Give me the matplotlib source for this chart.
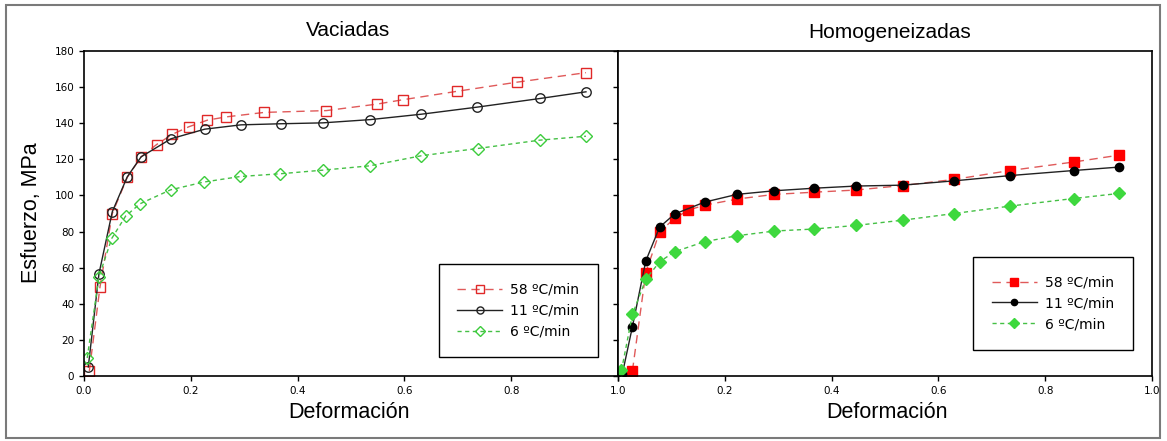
import matplotlib
matplotlib.use("Agg")
import matplotlib.pyplot as plt
from matplotlib.patches import Rectangle

# ---- data: Vaciadas ----
v58_x = [0.010, 0.030, 0.053, 0.081, 0.107, 0.136, 0.165, 0.196, 0.231, 0.266, 0.338, 0.454, 0.549, 0.597, 0.699, 0.810, 0.940]
v58_y = [2.8, 49.4, 90.0, 110.0, 121.4, 128.2, 133.8, 138.0, 141.7, 143.5, 146.0, 147.0, 150.6, 153.0, 157.7, 162.7, 168.0]
v11_x = [0.008, 0.028, 0.053, 0.081, 0.107, 0.163, 0.226, 0.294, 0.368, 0.447, 0.536, 0.632, 0.736, 0.854, 0.940]
v11_y = [5.0, 56.6, 91.0, 110.3, 121.4, 131.4, 136.7, 139.1, 139.7, 140.2, 142.0, 145.0, 148.9, 153.7, 157.4]
v6_x = [0.006, 0.028, 0.052, 0.078, 0.105, 0.162, 0.224, 0.293, 0.367, 0.447, 0.535, 0.632, 0.737, 0.853, 0.940]
v6_y = [10.0, 55.0, 76.2, 88.6, 95.4, 103.1, 107.4, 110.5, 112.0, 114.0, 116.4, 122.0, 126.0, 130.6, 132.8]

# ---- data: Homogeneizadas ----
h58_x = [0.027, 0.052, 0.078, 0.106, 0.132, 0.162, 0.223, 0.293, 0.367, 0.446, 0.533, 0.630, 0.734, 0.853, 0.938]
h58_y = [2.8, 57.2, 79.9, 87.3, 91.9, 94.6, 98.0, 100.6, 101.8, 103.0, 105.5, 108.9, 113.8, 118.5, 122.3]
h11_x = [0.008, 0.027, 0.052, 0.078, 0.106, 0.162, 0.223, 0.293, 0.367, 0.446, 0.533, 0.630, 0.734, 0.853, 0.938]
h11_y = [1.0, 27.3, 63.7, 82.5, 89.7, 96.3, 100.6, 102.6, 104.0, 105.2, 105.7, 108.1, 111.0, 113.8, 115.7]
h6_x = [0.0065, 0.027, 0.052, 0.078, 0.106, 0.162, 0.223, 0.293, 0.367, 0.446, 0.533, 0.630, 0.734, 0.853, 0.938]
h6_y = [3.1, 34.1, 53.5, 63.3, 68.8, 74.4, 77.7, 80.3, 81.4, 83.4, 86.3, 90.0, 94.1, 98.3, 101.1]

labels = ["58 ºC/min", "11 ºC/min", "6 ºC/min"]
xticks = [0.0, 0.2, 0.4, 0.6, 0.8, 1.0]
yticks = list(range(0, 181, 20))

RED = "#e02828"
RED_LINE = "#e05a5a"
BLACK = "#222222"
GREEN = "#3ccc3c"
GREEN_LINE = "#45c045"

W, H = 1167, 441
fig = plt.figure(figsize=(W / 100, H / 100), dpi=100)

def fx(px):
    return px / W

def fy(py):
    return 1 - py / H

ax1 = fig.add_axes([fx(84), fy(376), fx(618 - 84), (376 - 51) / H])
ax2 = fig.add_axes([fx(618), fy(376), fx(1152 - 618), (376 - 51) / H])

tick_font = dict(family="DejaVu Sans", size=7.5)

# left panel
ax1.plot(v58_x, v58_y, color=RED_LINE, ls=(0, (6, 4)), lw=1.0, marker="s", ms=7.2,
         mfc="none", mec=RED, mew=1.0, label=labels[0])
ax1.plot(v11_x, v11_y, color=BLACK, ls="-", lw=1.0, marker="o", ms=6.8,
         mfc="none", mec=BLACK, mew=1.0, label=labels[1])
ax1.plot(v6_x, v6_y, color=GREEN_LINE, ls=(0, (3, 2.5)), lw=1.0, marker="D", ms=6.3,
         mfc="none", mec=GREEN, mew=1.0, label=labels[2])

# right panel
ax2.plot(h58_x, h58_y, color=RED_LINE, ls=(0, (6, 4)), lw=1.0, marker="s", ms=7.2,
         mfc="#ff0000", mec="#ff0000", label=labels[0])
ax2.plot(h11_x, h11_y, color=BLACK, ls="-", lw=1.0, marker="o", ms=6,
         mfc="black", mec="black", label=labels[1])
ax2.plot(h6_x, h6_y, color=GREEN_LINE, ls=(0, (3, 2.5)), lw=1.0, marker="D", ms=6.5,
         mfc="#3ed83e", mec="#3ed83e", label=labels[2])

for ax in (ax1, ax2):
    ax.set_xlim(0, 1.0)
    ax.set_ylim(0, 180)
    ax.set_xticks(xticks)
    ax.set_yticks(yticks)
    ax.tick_params(direction="out", length=3.5, width=1, colors="black")
    for s in ax.spines.values():
        s.set_linewidth(1.2)
        s.set_color("black")

ax1.set_xticklabels([f"{t:.1f}" for t in xticks], **tick_font)
ax1.set_yticklabels([str(t) for t in yticks], **tick_font)
ax2.set_xticklabels([""] + [f"{t:.1f}" for t in xticks[1:]], **tick_font)
ax2.set_yticklabels([])

leg_font = dict(family="DejaVu Sans", size=10)
for ax, anchor in ((ax1, (0.9625, 0.058)), (ax2, (0.964, 0.08))):
    leg = ax.legend(loc="lower right", bbox_to_anchor=anchor, prop=leg_font,
                    frameon=True, fancybox=False, framealpha=1, edgecolor="black",
                    handlelength=3.2, borderpad=1.35, labelspacing=0.5,
                    handletextpad=0.6, borderaxespad=0, markerscale=0.75)
    leg.get_frame().set_linewidth(1.0)

lab_font = dict(family="Liberation Sans")
fig.text(fx(348), fy(31), "Vaciadas", ha="center", va="center", fontsize=15, **lab_font)
fig.text(fx(890), fy(33), "Homogeneizadas", ha="center", va="center", fontsize=15, **lab_font)
fig.text(fx(349), fy(413), "Deformación", ha="center", va="center", fontsize=15.5, **lab_font)
fig.text(fx(887), fy(413), "Deformación", ha="center", va="center", fontsize=15.5, **lab_font)
fig.text(fx(31), fy(213), "Esfuerzo, MPa", ha="center", va="center", rotation=90,
         fontsize=15.5, **lab_font)

fig.patches.append(Rectangle((fx(6), fy(438)), fx(1160 - 6), (438 - 5) / H,
                             transform=fig.transFigure, fill=False,
                             edgecolor="#7a7a7a", lw=1.5))

fig.savefig("out.png", dpi=100)
